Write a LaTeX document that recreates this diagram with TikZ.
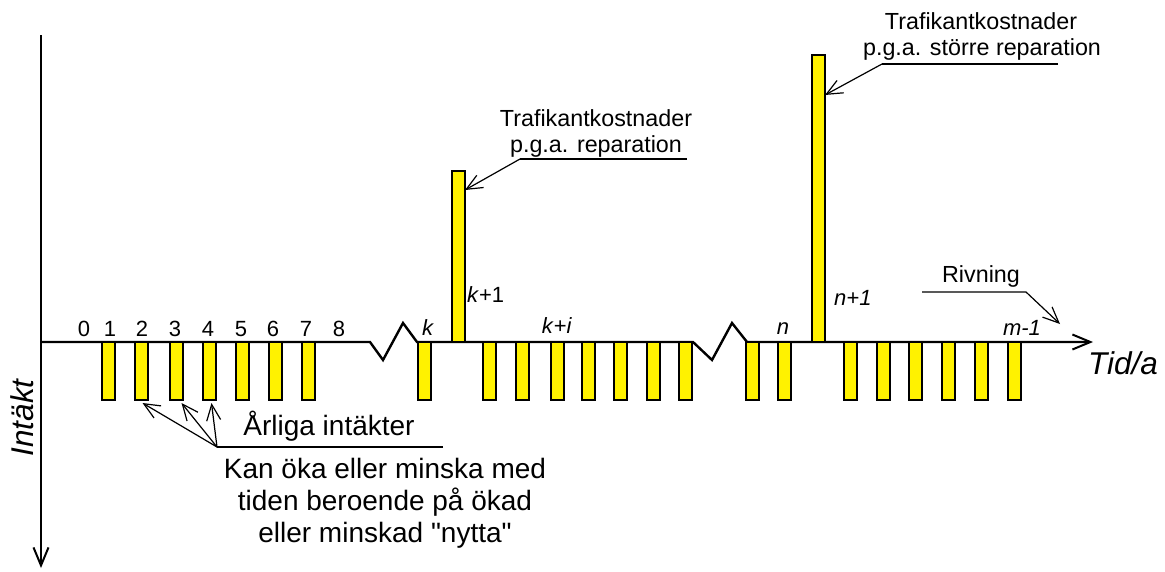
\documentclass[tikz,border=0pt]{standalone}
\usepackage{fontspec}
\setmainfont{Liberation Sans}
\usetikzlibrary{arrows.meta}
\begin{document}
\begin{tikzpicture}[x=1pt,y=-1pt,
  bar/.style={draw=black,line width=1.2pt,fill=yellow,minimum width=13pt,inner sep=0pt,outer sep=0pt},
  lowbar/.style={bar,minimum height=58pt,anchor=north west},
  axis/.style={line width=2.4pt,line join=miter},
  lead/.style={line width=1.2pt},
  larrow/.style={lead,-{Straight Barb[length=16pt,width=14pt,line width=1.2pt]}},
  tick/.style={font=\fontsize{22}{25}\selectfont,anchor=base,inner sep=0pt},
  lbl/.style={font=\fontsize{23.3}{25}\selectfont,anchor=base,inner sep=0pt},
  big/.style={font=\fontsize{28}{32}\selectfont,anchor=base,inner sep=0pt},
  axlbl/.style={font=\fontsize{31.5}{34}\selectfont\itshape,inner sep=0pt}
]
\useasboundingbox (0,0) rectangle (1165,571);

% axes
\coordinate (ytop) at (41,35);
\coordinate (ybot) at (41,568);
\coordinate (o) at (41,342);
\coordinate (xend) at (1093,342);
\draw[axis,-{Straight Barb[length=18pt,width=15pt,line width=2pt]}] (ytop) -- (ybot);
\draw[axis,-{Straight Barb[length=18pt,width=15pt,line width=2pt]}]
  (o) -- (370,342) -- (383,360) -- (403,323) -- (417,342)
  -- (693,342) -- (712,360) -- (732,323) -- (747,342) -- (xend);

% low bars
\foreach \x [count=\i] in {102,135,170,203,236,269,302}
  \node[lowbar] (b\i) at (\x,342) {};
\node[lowbar] (bk) at (418,342) {};
\foreach \x [count=\i] in {483,516,551,582,614,647,679}
  \node[lowbar] (bki\i) at (\x,342) {};
\node[lowbar] (bn0) at (746,342) {};
\node[lowbar] (bn) at (778,342) {};
\foreach \x [count=\i] in {844,877,909,942,975,1008}
  \node[lowbar] (bm\i) at (\x,342) {};
% tall bars
\node[bar,minimum height=171pt,anchor=south west] (bk1) at (452,342) {};
\node[bar,minimum height=287pt,anchor=south west] (bn1) at (812,342) {};

% tick labels
\foreach \x [count=\i from 0] in {84,110,142,175,208,241,273,306,339}
  \node[tick] (t\i) at (\x,336) {\i};
\node[tick] (tk) at (428,335) {\textit{k}};
\node[tick,anchor=base west] (tk1) at (467,302) {\textit{k}+1};
\node[tick] (tki) at (557,333) {\textit{k}+\textit{i}};
\node[tick] (tn) at (783,334) {\textit{n}};
\node[tick,anchor=base west] (tn1) at (834,305) {\textit{n+1}};
\node[tick] (tm) at (1022,335) {\textit{m-1}};

% axis labels
\node[axlbl,anchor=base west] (tid) at (1088,374) {Tid/a};
\node[axlbl,rotate=90,anchor=base] (intakt) at (34,418) {Intäkt};

% Trafikantkostnader p.g.a. reparation
\node[lbl] (r1) at (596,126) {Trafikantkostnader};
\node[lbl] (r2) at (596,152) {p.g.a. reparation};
\coordinate (ru1) at (520,159);
\coordinate (ru2) at (687,159);
\draw[lead] (ru2) -- (ru1);
\draw[larrow] (ru1) -- ([yshift=-19pt]bk1.north east);

% Trafikantkostnader p.g.a. större reparation
\node[lbl] (s1) at (981,29) {Trafikantkostnader};
\node[lbl] (s2) at (982,55) {p.g.a. större reparation};
\coordinate (su1) at (882,64);
\coordinate (su2) at (1058,64);
\draw[lead] (su2) -- (su1);
\draw[larrow] (su1) -- ([yshift=-40pt]bn1.north east);

% Rivning
\node[lbl] (riv) at (981,282) {Rivning};
\coordinate (rv1) at (922,292);
\coordinate (rv2) at (1026,292);
\coordinate (rv3) at (1060,324);
\draw[larrow] (rv1) -- (rv2) -- (rv3);

% Årliga intäkter
\node[big] (arl) at (329,435) {Årliga intäkter};
\coordinate (au1) at (217,447);
\coordinate (au2) at (443,447);
\draw[lead] (au2) -- (au1);
\draw[larrow] (au1) -- ([xshift=1pt,yshift=-3pt]b2.south);
\draw[larrow] (au1) -- ([xshift=5pt,yshift=-3pt]b3.south);
\draw[larrow] (au1) -- ([xshift=2pt,yshift=-3pt]b4.south);
\node[big] (kan1) at (385,478) {Kan öka eller minska med};
\node[big] (kan2) at (385,510) {tiden beroende på ökad};
\node[big] (kan3) at (385,542) {eller minskad \textquotedbl nytta\textquotedbl};
\end{tikzpicture}
\end{document}
